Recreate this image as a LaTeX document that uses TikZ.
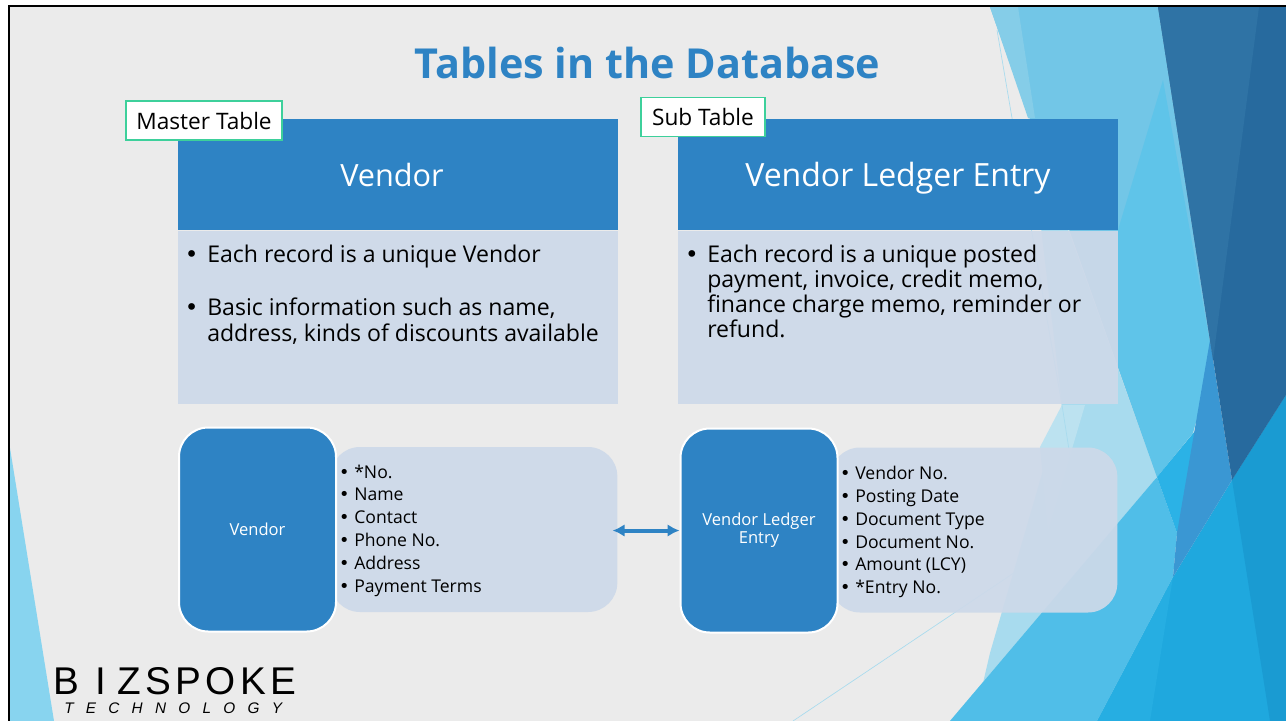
\documentclass[tikz,border=0pt]{standalone}
\usepackage{fontspec}
\setmainfont{Open Sans}
\newfontfamily\logofont[LetterSpace=11]{Liberation Sans}
\newfontfamily\logosub[LetterSpace=80]{Liberation Sans}
\newfontfamily\bulfont{DejaVu Sans}
\usetikzlibrary{arrows.meta}
\definecolor{pagebg}{HTML}{EBEBEB}
\definecolor{hdrblue}{HTML}{2E83C4}
\definecolor{pale}{HTML}{CDD9E9}
\definecolor{tagg}{HTML}{3DD09B}
\definecolor{cA}{HTML}{88D4EF}
\definecolor{cB}{HTML}{72C6E7}
\definecolor{cB2}{HTML}{85CDE8}
\definecolor{cC}{HTML}{5FC4E9}
\definecolor{cD}{HTML}{A8DBEE}
\definecolor{cE}{HTML}{50BEE8}
\definecolor{cF}{HTML}{2BB2E6}
\definecolor{cG}{HTML}{1FA8DE}
\definecolor{cG2}{HTML}{26AEE2}
\definecolor{cH}{HTML}{1A9BD2}
\definecolor{cI}{HTML}{3A97D3}
\definecolor{cJ}{HTML}{276A9E}
\definecolor{cK}{HTML}{2F73A5}
\definecolor{cL}{HTML}{BCE2F0}
\newcommand{\fs}[2]{\fontsize{#1}{#2}\selectfont}
\newcommand{\bl}[1]{\llap{{\bulfont•}\hspace{6.5pt}}#1}
\newcommand{\sbl}[1]{\llap{{\bulfont•}\hspace{3.6pt}}#1}
\tikzset{
  x=0.75pt,y=-0.75pt,
  hdr/.style={fill=hdrblue,text=white,draw=none,inner sep=0pt,minimum width=330pt,minimum height=83.6pt,text height=23pt,text depth=5pt},
  bodybox/.style={fill=pale,fill opacity=.93,draw=none,inner sep=0pt,minimum width=330pt,minimum height=129.75pt},
  bodytext/.style={anchor=north west,align=left,inner sep=0pt,text=black},
  tag/.style={fill=white,draw=tagg,line width=1.2pt,inner sep=0pt,font=\fs{17}{21},text=black},
  listbox/.style={fill=pale,fill opacity=.93,draw=none,rounded corners=22pt,inner sep=0pt,minimum width=215pt,minimum height=123.75pt},
  keybox/.style={fill=hdrblue,draw=white,line width=1.5pt,rounded corners=22pt,inner sep=0pt,text=white,minimum width=117.75pt,minimum height=153pt,align=center,font=\fs{12.4}{13.5}},
  listtext/.style={anchor=north west,align=left,inner sep=0pt,text=black,font=\fs{13.2}{17.1}},
  dbl/.style={draw=hdrblue,line width=3pt,{Latex[length=9pt,width=9.5pt]}-{Latex[length=9pt,width=9.5pt]}},
  faint/.style={draw=cD,line width=.5pt},
}
\begin{document}
\begin{tikzpicture}
\useasboundingbox (0,0) rectangle (1286,721);
% page
\fill[white] (0,0) rectangle (1286,721);
\fill[pagebg] (10,7) rectangle (1286,721);
\draw[black,line width=1.8pt] (9,721) -- (9,6) -- (1286,6);
% left triangle
\fill[cA] (10,448) -- (54,721) -- (10,721) -- cycle;
% pale wedge
\fill[cD] (1028,118) -- (1157,477) -- (950,721) -- (983,683) -- (990,653) -- (1062,405) -- cycle;
\fill[cL] (1062,405) -- (1085,405) -- (1048,530) -- (1040,447) -- cycle;
% top light band
\fill[cB] (990,7) -- (1158,7) -- (1213,360) -- (1157,477) -- cycle;
\fill[cB2] (990,7) -- (1018,7) -- (1035,118) -- (1028,118) -- cycle;
\fill[cC] (1163,80) -- (1213,360) -- (1193,433) -- (1157,477) -- (1117,364) -- (1118,230) -- cycle;
% medium diagonal
\fill[cG] (1097,721) -- (1173,577) -- (1232,480) -- (1286,395) -- (1286,721) -- cycle;
\fill[cG2] (1097,721) -- (1173,577) -- (1150,721) -- cycle;
\fill[cH] (1270,721) -- (1232,480) -- (1286,395) -- (1286,721) -- cycle;
\fill[cE] (950,721) -- (1157,477) -- (1177,533) -- (1173,577) -- (1097,721) -- cycle;
\fill[cF] (1157,477) -- (1200,425) -- (1185,540) -- (1177,533) -- cycle;
\fill[cI] (1210,340) -- (1232,480) -- (1173,577) -- (1177,533) -- cycle;
% dark top right
\fill[cJ] (1158,7) -- (1286,7) -- (1286,395) -- (1232,480) -- cycle;
\fill[cK] (1158,7) -- (1259,7) -- (1213,360) -- cycle;
% faint lines
\draw[faint] (997,30) -- (1012,118) -- (1062,405) -- (1080,520);
\draw[faint] (793,721) -- (1157,477);
% title
\node[text=hdrblue,font=\bfseries\fs{31}{36},inner sep=0pt] (title) at (647.5,63) {Tables in the Database};
% left table
\node[bodybox] (lbody) at (398,317.5) {};
\node[hdr,font=\fs{23}{28}] (lhead) at (398,174.25) {\hspace*{-9pt}Vendor};
\node[bodytext,font=\fs{17.3}{19.5}] (ltext) at (207,245) {\bl{Each record is a unique Vendor}\\[20.2pt]\bl{Basic information such as name,}\\address, kinds of discounts available};
% right table
\node[bodybox] (rbody) at (898,317.5) {};
\node[hdr,font=\fs{24}{28}] (rhead) at (898,174.25) {Vendor Ledger Entry};
\node[bodytext,font=\fs{17.3}{18.7}] (rtext) at (707,245) {\bl{Each record is a unique posted}\\payment, invoice, credit memo,\\finance charge memo, reminder or\\refund.};
% tags
\node[tag,minimum width=117pt,minimum height=29pt] (mtag) at (204,120.5) {Master Table};
\node[tag,minimum width=93pt,minimum height=29.5pt] (stag) at (703,117) {Sub Table};
% lower left
\node[listbox] (llist) at (474,529.5) {};
\node[keybox] (lkey) at (257.5,529.5) {Vendor};
\node[listtext] (ll) at (354,464.5) {\sbl{*No.}\\\sbl{Name}\\\sbl{Contact}\\\sbl{Phone No.}\\\sbl{Address}\\\sbl{Payment Terms}};
% lower right
\node[listbox] (rlist) at (974,530) {};
\node[keybox] (rkey) at (759,530.5) {Vendor Ledger\\Entry};
\node[listtext] (rl) at (855,466) {\sbl{Vendor No.}\\\sbl{Posting Date}\\\sbl{Document Type}\\\sbl{Document No.}\\\sbl{Amount (LCY)}\\\sbl{*Entry No.}};
% arrow
\coordinate (arrowy) at (0,530.5);
\draw[dbl,shorten <=-3.75pt] (llist.east |- arrowy) -- (rkey.west |- arrowy);
% logo
\node[anchor=west,inner sep=0pt,font=\logofont\fs{29}{32},text=black] (logo) at (53,681) {B\kern12pt I\kern9pt ZSPOKE};
\node[anchor=west,inner sep=0pt,font=\logosub\itshape\fs{11.5}{14},text=black] (logo2) at (64,708) {TECHNOLOGY};
\end{tikzpicture}
\end{document}
